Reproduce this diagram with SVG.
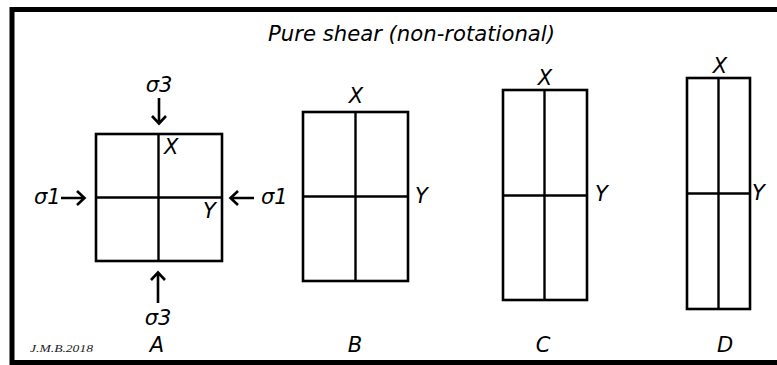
<svg xmlns="http://www.w3.org/2000/svg" width="777" height="365" viewBox="0 0 777 365">
<style>
.t{font-family:"DejaVu Sans","Verdana",sans-serif;font-style:italic;font-size:21px;fill:#000}
.box{fill:none;stroke:#000;stroke-width:2.6}
.ln{stroke:#000;stroke-width:2.4;fill:none}
.ar{stroke:#000;stroke-width:2.6;fill:none;stroke-linecap:butt}
.sig{font-family:"Liberation Serif",serif;font-style:italic;font-size:11px;fill:#222}
</style>
<rect x="0" y="0" width="777" height="365" fill="#fff"/>
<rect id="frame" x="12" y="9.5" width="790" height="353" fill="none" stroke="#000" stroke-width="5"/>
<text class="t" x="411.5" y="41" text-anchor="middle" font-size="21" textLength="287" lengthAdjust="spacingAndGlyphs">Pure shear (non-rotational)</text>

<g id="A">
<rect class="box" x="96" y="134" width="126" height="127"/>
<line class="ln" x1="158.5" y1="134" x2="158.5" y2="261"/>
<line class="ln" x1="96" y1="197.5" x2="222" y2="197.5"/>
<text class="t" x="164" y="154">X</text>
<text class="t" x="203" y="218">Y</text>
<text class="t" x="157" y="352" text-anchor="middle">A</text>
</g>

<g id="B">
<rect class="box" x="303" y="112" width="105" height="169"/>
<line class="ln" x1="355.5" y1="112" x2="355.5" y2="281"/>
<line class="ln" x1="303" y1="196.5" x2="408" y2="196.5"/>
<text class="t" x="356" y="103" text-anchor="middle">X</text>
<text class="t" x="415" y="203">Y</text>
<text class="t" x="355" y="352" text-anchor="middle">B</text>
</g>

<g id="C">
<rect class="box" x="503" y="90" width="84" height="210"/>
<line class="ln" x1="544.5" y1="90" x2="544.5" y2="300"/>
<line class="ln" x1="503" y1="195.5" x2="587" y2="195.5"/>
<text class="t" x="545" y="85" text-anchor="middle">X</text>
<text class="t" x="595" y="201">Y</text>
<text class="t" x="543" y="352" text-anchor="middle">C</text>
</g>

<g id="D">
<rect class="box" x="687" y="78" width="63" height="231"/>
<line class="ln" x1="718.5" y1="78" x2="718.5" y2="309"/>
<line class="ln" x1="687" y1="193.5" x2="750" y2="193.5"/>
<text class="t" x="720" y="73" text-anchor="middle">X</text>
<text class="t" x="752" y="200">Y</text>
<text class="t" x="725" y="352" text-anchor="middle">D</text>
</g>

<g id="stress-labels">
<text class="t" x="159" y="92" text-anchor="middle">σ3</text>
<text class="t" x="158" y="325" text-anchor="middle">σ3</text>
<text class="t" x="34" y="204">σ1</text>
<text class="t" x="261" y="204">σ1</text>
</g>

<g id="connectors">
<path class="ar" d="M159 98 V123 M152 116 L159 123.5 L166 116"/>
<path class="ar" d="M158 303 V273 M151 280 L158 272.5 L165 280"/>
<path class="ar" d="M61 198 H84 M77 191 L84.5 198 L77 205"/>
<path class="ar" d="M254 198 H231 M238 191 L230.5 198 L238 205"/>
</g>

<text class="sig" x="30" y="352" textLength="63" lengthAdjust="spacingAndGlyphs">J.M.B.2018</text>
</svg>
